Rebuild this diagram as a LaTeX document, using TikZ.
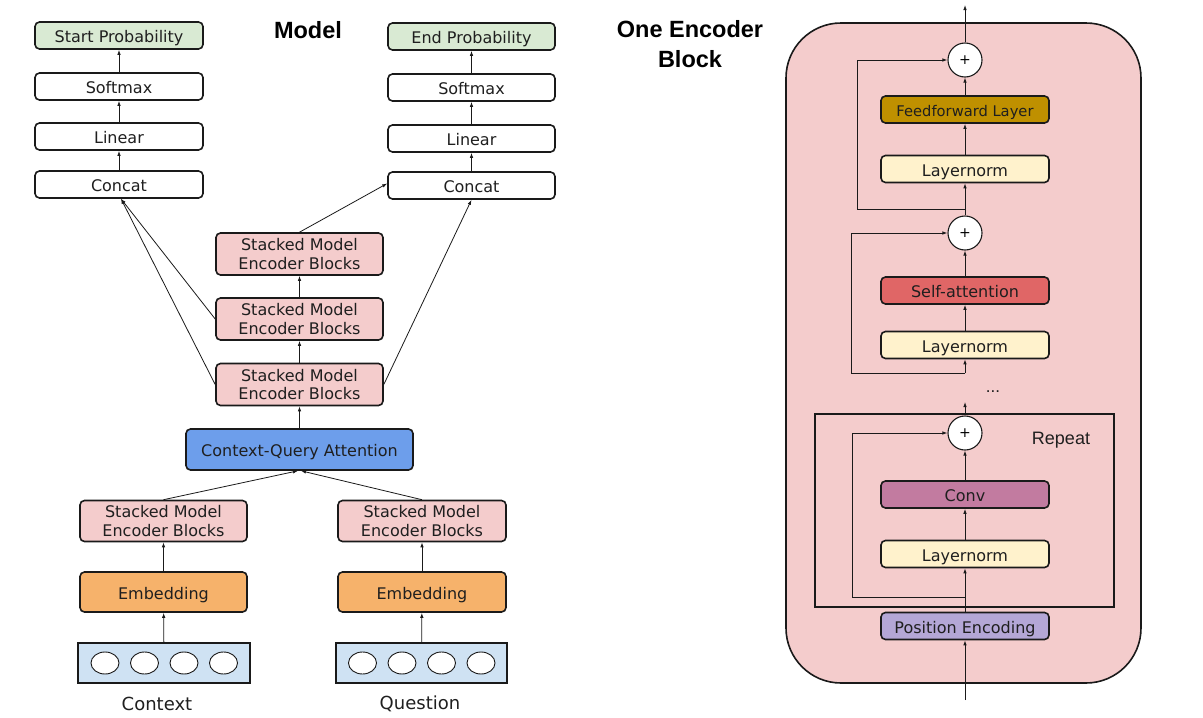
\documentclass[tikz,border=0pt]{standalone}
\usepackage{fontspec}
\setmainfont{DejaVu Sans}
\newfontfamily\arialf{Liberation Sans}
\usetikzlibrary{arrows.meta,shapes.geometric}
\definecolor{txt}{HTML}{1F1F1F}
\definecolor{edge}{HTML}{1A1A1A}
\definecolor{cgreen}{HTML}{D9EAD3}
\definecolor{cpink}{HTML}{F4CCCC}
\definecolor{cblue}{HTML}{6D9EEB}
\definecolor{corange}{HTML}{F6B26B}
\definecolor{cinput}{HTML}{CFE2F3}
\definecolor{cff}{HTML}{BF9000}
\definecolor{cln}{HTML}{FFF2CC}
\definecolor{csa}{HTML}{E06666}
\definecolor{cconv}{HTML}{C27BA0}
\definecolor{cpe}{HTML}{B4A7D6}
\tikzset{
  boxnode/.style={draw=edge, line width=1.6pt, rounded corners=4.5pt, inner sep=0pt,
    align=center, text=txt, font=\fontsize{16}{18.4}\selectfont},
  single/.style={text height=14.6pt, text depth=0pt},
  onebox/.style={boxnode, single, minimum width=168pt, minimum height=27pt},
  twobox/.style={boxnode, minimum width=167pt, minimum height=42pt, fill=cpink},
  inbox/.style={draw=edge, line width=1.6pt, inner sep=0pt, fill=cinput, minimum width=172pt, minimum height=40pt},
  tok/.style={draw=edge, line width=0.9pt, ellipse, fill=white, minimum width=28pt, minimum height=22pt, inner sep=0pt},
  plusnode/.style={draw=edge, line width=1.1pt, circle, fill=white, minimum size=34pt, inner sep=0pt, font=\fontsize{14}{14}\selectfont},
  arr/.style={draw=edge, line width=0.8pt, -{Latex[length=5pt,width=3.5pt]}},
  title/.style={font=\arialf\bfseries\fontsize{23.5}{29.5}\selectfont, align=center, text=black},
}
\begin{document}
\begin{tikzpicture}[x=1pt,y=-1pt]
\useasboundingbox (0,0) rectangle (1203,718);
% ---------- Left: Model ----------
\node[title] (mtitle) at (308,30) {Model};
\node[onebox, fill=cgreen] (sp) at (119,35.5) {Start Probability};
\node[onebox, fill=white] (sm1) at (119,86.5) {Softmax};
\node[onebox, fill=white] (lin1) at (119,136.5) {Linear};
\node[onebox, fill=white] (cat1) at (119,184.5) {Concat};
\node[onebox, fill=cgreen, minimum width=167pt] (ep) at (471.5,36.5) {End Probability};
\node[onebox, fill=white, minimum width=167pt] (sm2) at (471.5,87.5) {Softmax};
\node[onebox, fill=white, minimum width=167pt] (lin2) at (471.5,138.5) {Linear};
\node[onebox, fill=white, minimum width=167pt] (cat2) at (471.5,185.5) {Concat};
\node[twobox] (s3) at (299.5,254) {Stacked Model\\Encoder Blocks};
\node[twobox] (s2) at (299.5,319) {Stacked Model\\Encoder Blocks};
\node[twobox] (s1) at (299.5,384.5) {Stacked Model\\Encoder Blocks};
\node[boxnode, single, fill=cblue, minimum width=227pt, minimum height=41pt] (cqa) at (299.5,449.5) {Context-Query Attention};
\node[twobox, minimum height=41pt] (sL) at (163.5,521) {Stacked Model\\Encoder Blocks};
\node[twobox, minimum height=41pt, minimum width=168pt] (sR) at (422,521) {Stacked Model\\Encoder Blocks};
\node[boxnode, single, fill=corange, minimum width=167pt, minimum height=40pt] (eL) at (163.5,592) {Embedding};
\node[boxnode, single, fill=corange, minimum width=168pt, minimum height=40pt] (eR) at (422,592) {Embedding};
\node[inbox] (inL) at (164,663) {};
\node[inbox, minimum width=171pt] (inR) at (421.5,663) {};
\foreach \dx [count=\i] in {-59,-19.5,20,59.5} {
  \node[tok] (tl\i) at (164+\dx,663) {};
  \node[tok] (tr\i) at (421.5+\dx,663) {};
}
\node[text=txt, font=\fontsize{18}{18}\selectfont] (ctx) at (157,704) {Context};
\node[text=txt, font=\fontsize{18}{18}\selectfont] (qst) at (420,704) {Question};
% connectors
\draw[arr] (inL) -- (eL);
\draw[arr] (inR) -- (eR);
\draw[arr] (eL) -- (sL);
\draw[arr] (eR) -- (sR);
\draw[arr] (sL.north) -- ([xshift=-1.5pt]cqa.south);
\draw[arr] (sR.north) -- ([xshift=1.5pt]cqa.south);
\draw[arr] (cqa) -- (s1);
\draw[arr] (s1) -- (s2);
\draw[arr] (s2) -- (s3);
\draw[arr] (s2.west) -- ([xshift=2pt]cat1.south);
\draw[arr] (s1.west) -- ([xshift=2pt]cat1.south);
\draw[arr] (s3.north) -- ([yshift=2pt]cat2.west);
\draw[arr] (s1.east) -- (cat2.south);
\draw[arr] (cat1) -- (lin1);
\draw[arr] (lin1) -- (sm1);
\draw[arr] (sm1) -- (sp);
\draw[arr] (cat2) -- (lin2);
\draw[arr] (lin2) -- (sm2);
\draw[arr] (sm2) -- (ep);
% ---------- Right: One Encoder Block ----------
\node[title] (etitle) at (690,44) {One Encoder\\Block};
\draw[draw=edge, line width=1.6pt, fill=cpink, rounded corners=55pt] (786,23) rectangle (1141,683);
\draw[draw=edge, line width=1.5pt] (815,414) rectangle (1114,607);
\node[plusnode] (p1) at (965,60) {+};
\node[onebox, fill=cff, font=\fontsize{14.7}{18}\selectfont] (ff) at (965,109.5) {Feedforward Layer};
\node[onebox, fill=cln] (ln1) at (965,169) {Layernorm};
\node[plusnode] (p2) at (965,233) {+};
\node[onebox, fill=csa] (sa) at (965,290.5) {Self-attention};
\node[onebox, fill=cln] (ln2) at (965,345) {Layernorm};
\node[font=\arialf\fontsize{17}{17}\selectfont, text=txt] (dots) at (993,392) {...};
\node[plusnode] (p3) at (965,433) {+};
\node[font=\arialf\fontsize{18}{18}\selectfont, text=txt] (rep) at (1061,440) {Repeat};
\node[onebox, fill=cconv] (conv) at (965,494.5) {Conv};
\node[onebox, fill=cln] (ln3) at (965,554) {Layernorm};
\node[onebox, fill=cpe] (pe) at (965,626) {Position Encoding};
\coordinate (out) at (965,5);
\coordinate (inp) at (965,700);
\coordinate (b1) at (965,209);
\coordinate (k1) at (857,209);
\coordinate (b2) at (965,373);
\coordinate (k2) at (851,373);
\coordinate (b3) at (965,597);
\coordinate (k3) at (852,597);
\coordinate (dtop) at (965,402);
\draw[arr] (p1) -- (out);
\draw[arr] (ff) -- (p1);
\draw[arr] (ln1) -- (ff);
\draw[arr] (p2) -- (ln1);
\draw[arr] (b1) -- (k1) |- (p1.west);
\draw[arr] (sa) -- (p2);
\draw[arr] (ln2) -- (sa);
\draw[arr] (b2) -- (ln2);
\draw[arr] (b2) -- (k2) |- (p2.west);
\draw[arr] (p3) -- (dtop);
\draw[arr] (conv) -- (p3);
\draw[arr] (ln3) -- (conv);
\draw[arr] (pe) -- (ln3);
\draw[arr] (b3) -- (k3) |- (p3.west);
\draw[arr] (inp) -- (pe);
\end{tikzpicture}
\end{document}
